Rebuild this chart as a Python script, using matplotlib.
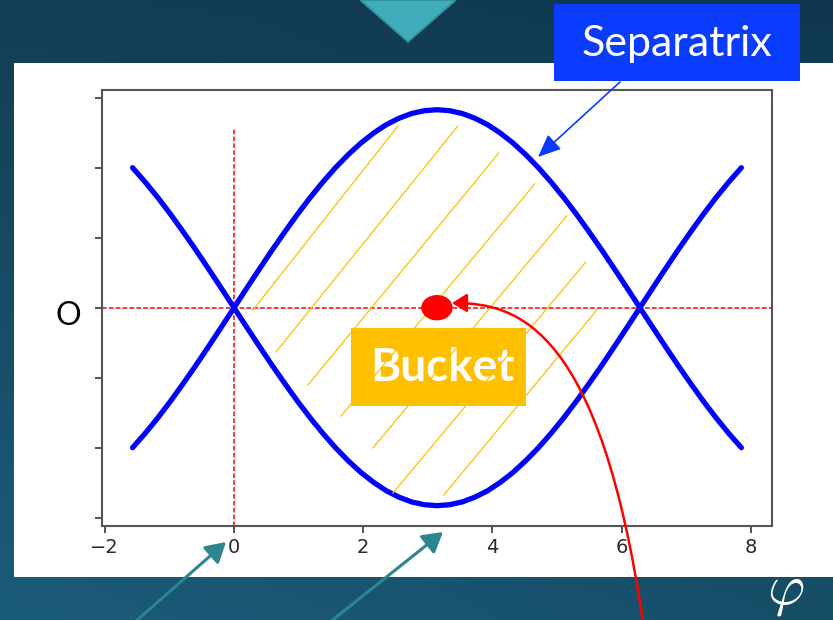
import numpy as np
import matplotlib.pyplot as plt
from matplotlib.patches import Rectangle, Polygon, Ellipse, FancyArrowPatch
from matplotlib.path import Path

W, H = 833, 620

# separatrix, phi from -pi/2 to 5pi/2 every pi/16
phi = np.linspace(-np.pi / 2, 5 * np.pi / 2, 49)
sep = [1.000, 0.897, 0.786, 0.667, 0.541, 0.411, 0.276, 0.139,
       0.000,
       0.139, 0.276, 0.411, 0.541, 0.667, 0.786, 0.897, 1.000,
       1.093, 1.176, 1.247, 1.307, 1.353, 1.387, 1.407, 1.414,
       1.407, 1.387, 1.353, 1.307, 1.247, 1.176, 1.093, 1.000,
       0.897, 0.786, 0.667, 0.541, 0.411, 0.276, 0.139, 0.000,
       0.139, 0.276, 0.411, 0.541, 0.667, 0.786, 0.897, 1.000]
sep = np.array(sep)

# hatch strokes inside the bucket (start / end points)
hatch_x0 = [0.294, 0.650, 1.145, 1.655, 2.150, 2.459, 3.248]
hatch_y0 = [-0.016, -0.316, -0.552, -0.774, -1.002, -1.324, -1.338]
hatch_x1 = [2.537, 3.465, 4.099, 4.656, 5.151, 5.445, 5.630]
hatch_y1 = [1.298, 1.298, 1.105, 0.884, 0.655, 0.326, -0.009]

dot_phi, dot_y = np.pi, 0.0
vline_top = 1.28

xticks = [-2, 0, 2, 4, 6, 8]
yticks = [-1.5, -1.0, -0.5, 0.0, 0.5, 1.0, 1.5]

plt.rcParams['mathtext.fontset'] = 'cm'
fig = plt.figure(figsize=(W / 100, H / 100), dpi=100)

# slide background
bg = fig.add_axes([0, 0, 1, 1])
yy, xx = np.mgrid[0:1:200j, 0:1:200j]
c_tl = np.array([19, 62, 84]) / 255
c_tr = np.array([15, 56, 78]) / 255
c_bl = np.array([27, 92, 122]) / 255
c_br = np.array([22, 78, 104]) / 255
grad = (c_tl * ((1 - xx) * (1 - yy))[..., None] + c_tr * (xx * (1 - yy))[..., None]
        + c_bl * ((1 - xx) * yy)[..., None] + c_br * (xx * yy)[..., None])
bg.imshow(grad, extent=[0, W, H, 0], aspect='auto', interpolation='bilinear')
bg.set_xlim(0, W)
bg.set_ylim(H, 0)
bg.axis('off')
bg.add_patch(Polygon([(360, 0), (456, 0), (408, 42)], closed=True,
                     facecolor='#41adba', edgecolor='#2f8c98', lw=1.2))
bg.add_patch(Rectangle((14, 63), W - 14, 514, facecolor='white', edgecolor='none'))
bg.add_patch(Rectangle((554, 4), 246, 77, facecolor='#0a3cff', edgecolor='none'))
bg.text(677, 56, 'Separatrix', color='white', fontsize=31, family='Lato',
        ha='center', va='baseline')
bg.text(68, 325, 'O', color='black', fontsize=23, family='Lato',
        ha='center', va='baseline')

# the plot
ax = fig.add_axes([102.1 / W, (H - 525.5) / H, 669.7 / W, 435.6 / H])
ax.set_facecolor('white')
ax.plot(phi, sep, color='blue', lw=3.8, solid_capstyle='round', zorder=3)
ax.plot(phi, -sep, color='blue', lw=3.8, solid_capstyle='round', zorder=3)
ax.axhline(0, color='red', lw=1.1, ls=(0, (3, 1.5)), zorder=2)
ax.plot([0, 0], [-2, vline_top], color='red', lw=1.1, ls=(0, (3, 1.5)), zorder=2)

# bucket label (under the hatch)
ax.add_patch(Rectangle((351, 328), 175, 78, transform=bg.transData, clip_on=False,
                       facecolor='#ffc000', edgecolor='none', zorder=4))
ax.text(442, 381, 'Bucket', transform=bg.transData, color='white', fontsize=33,
        family='Lato', fontweight='bold', ha='center', va='baseline', zorder=4.5)

for x0, y0, x1, y1 in zip(hatch_x0, hatch_y0, hatch_x1, hatch_y1):
    ax.plot([x0, x1], [y0, y1], color='#ffc000', lw=0.9, zorder=5)

ax.add_patch(Ellipse((dot_phi, dot_y), 0.464, 0.171, color='red', zorder=6))

ax.set_xlim(-2.042, 8.325)
ax.set_ylim(-1.5556, 1.5556)
ax.set_xticks(xticks)
ax.set_yticks(yticks)
ax.set_yticklabels([])
ax.tick_params(direction='out', length=5, width=1.3, color='#444444',
               labelsize=14, labelcolor='#2a2a2a', pad=4)
for s in ax.spines.values():
    s.set_color('#555555')
    s.set_linewidth(1.5)

# annotations on top
top = fig.add_axes([0, 0, 1, 1], zorder=5)
top.set_xlim(0, W)
top.set_ylim(H, 0)
top.axis('off')
top.patch.set_alpha(0)

top.add_patch(FancyArrowPatch((620, 82), (538, 157), arrowstyle='-|>,head_length=0.7,head_width=0.3',
                              mutation_scale=20, color='#0a3cff', lw=1.2, shrinkA=0, shrinkB=0))

red_path = Path([(643, 622), (600, 330), (520, 303), (452, 303)],
                [Path.MOVETO, Path.CURVE4, Path.CURVE4, Path.CURVE4])
top.add_patch(FancyArrowPatch(path=red_path, arrowstyle='-|>,head_length=0.45,head_width=0.28',
                              mutation_scale=20, color='red', lw=1.8))

top.text(786, 618, r'$\varphi$', color='white', fontsize=41, ha='center', va='bottom')

for start, tip in [((135, 622), (226, 542)), ((330, 622), (443, 532))]:
    top.add_patch(FancyArrowPatch(start, tip, arrowstyle='-|>,head_length=0.6,head_width=0.35',
                                  mutation_scale=20, color='#2d8590', lw=2.2,
                                  shrinkA=0, shrinkB=0))

fig.savefig('out.png', dpi=100)
